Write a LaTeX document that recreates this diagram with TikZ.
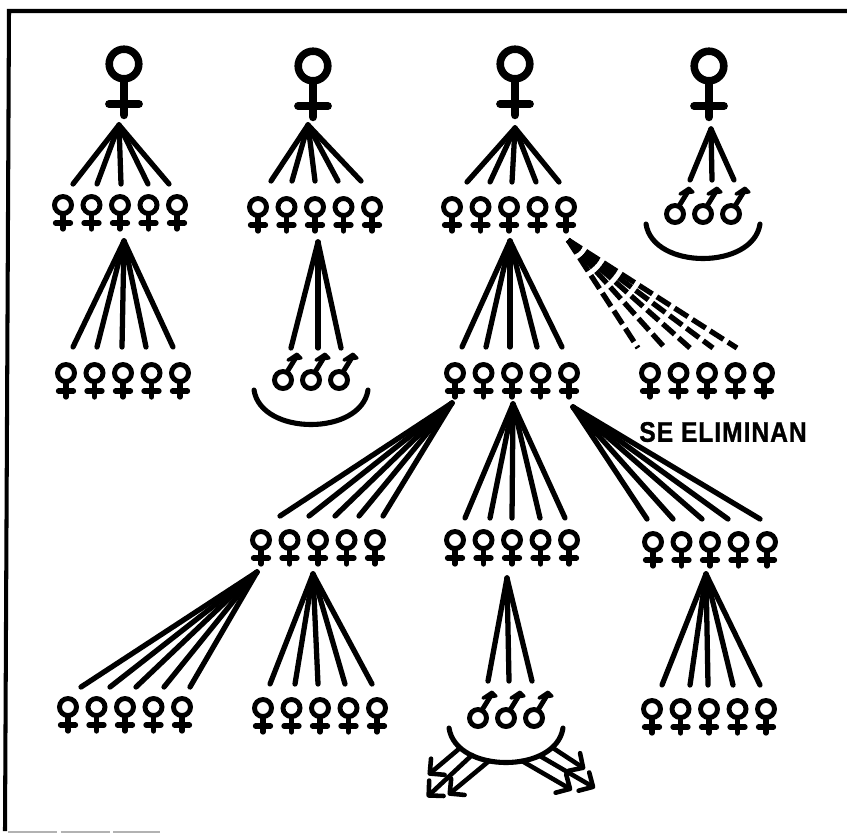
\documentclass[tikz,border=0pt]{standalone}
\usepackage{fontspec}
\setmainfont{Liberation Sans}[BoldFeatures={FakeBold=1.3}]
\usetikzlibrary{arrows.meta}

% one row of five small symbols, centred on x
\newcommand{\femrow}[3]{
\foreach \dx [count=\i] in {-57,-28.5,0,28.5,57} {
\pic (#1\i) at (#2+\dx,#3) {smallfem};
}
}
% three male symbols with the bowl below them
\newcommand{\malerow}[3]{
\foreach \dx [count=\i] in {-28,0,28} {
\pic (#1\i) at (#2+\dx,#3) {smallmale};
}
\coordinate (#1left) at (#2-57,#3+10);
\coordinate (#1right) at (#2+57,#3+10);
\coordinate (#1ca) at (#2-50,#3+56);
\coordinate (#1cb) at (#2+50,#3+56);
\draw[bowl] (#1left) .. controls (#1ca) and (#1cb) .. (#1right);
}
% fan of lines from one apex, #4 = height of the free ends
\newcommand{\fan}[6][fanline]{
\coordinate (#2a) at (#3,#4);
\foreach \ex [count=\i] in {#6} {
\coordinate (#2\i) at (\ex,#5);
\draw[#1] (#2a) -- (#2\i);
}
}

\begin{document}
\begin{tikzpicture}[x=0.02cm, y=-0.02cm, line cap=round,
fanline/.style={line width=3pt},
dashline/.style={line width=3pt, line cap=butt, dash pattern=on 9pt off 3pt},
bowl/.style={line width=2.9pt},
escape/.style={line width=2.6pt, -{Straight Barb[length=6pt,width=12pt,round]}},
frame/.style={line width=2.3pt},
smallfem/.pic={
\draw[line width=2.8pt] (0,0) circle (8.5);
\draw[line width=3pt] (0,9) -- (0,24);
\draw[line width=3pt] (-7.5,18) -- (7.5,18);
},
bigfem/.pic={
\draw[line width=4.3pt] (0,0) circle (14.8);
\draw[line width=4.8pt] (0,16) -- (0,51);
\draw[line width=4.4pt] (-15,40) -- (15,40);
},
smallmale/.pic={
\draw[line width=2.8pt] (0,0) circle (8.5);
\draw[line width=2.8pt] (4,-8) -- (12,-21);
\fill[line width=1.8pt, line join=round, draw=black] (5,-20) -- (18,-22) -- (14,-26) -- cycle;
}]
\useasboundingbox (0,0) rectangle (847,833);

% frame
\coordinate (fbl) at (5,831);
\coordinate (ftl) at (9,11);
\coordinate (ftr) at (847,11);
\draw[frame, line cap=butt] (fbl) -- (ftl) -- (ftr);
\coordinate (fga) at (8,832);
\coordinate (fgb) at (160,832);
\draw[black!30, line width=0.8pt, line cap=butt, dash pattern=on 28pt off 2pt] (fga) -- (fgb);

% top mothers
\pic (mother1) at (124,64) {bigfem};
\pic (mother2) at (313,66) {bigfem};
\pic (mother3) at (515,64) {bigfem};
\pic (mother4) at (709,66) {bigfem};

% first generation
\fan{topa}{119}{125}{184}{73,97,121,148,169}
\fan{topb}{308}{125}{181}{271,292,315,338,361}
\fan{topc}{515}{128}{182}{467,490,512,536,559}
\fan{topd}{711}{129}{180}{690,712,734}
\femrow{onea}{120}{205}
\femrow{oneb}{315}{207}
\femrow{onec}{509}{207}
\malerow{oned}{703}{214}

% second generation
\fan{seca}{124}{241}{347}{73,97,122,146,173}
\fan{secb}{318}{242}{348}{291,318,341}
\fan{secc}{510}{241}{347}{462,486,510,537,562}
\fan[dashline]{secd}{568}{240}{348}{638,665,690,713,737}
\femrow{twoa}{123}{373}
\malerow{twob}{311}{380}
\femrow{twoc}{512}{373}
\femrow{twod}{707}{373}
\node[font=\bfseries, yscale=1.15] (elim) at (723,432) {\fontsize{14}{14}\selectfont\addfontfeature{LetterSpace=4}SE ELIMINAN};

% third generation
\fan{thra}{452}{403}{516}{280,309,335,359,383}
\fan{thrb}{513}{404}{518}{465,490,512,540,565}
\fan{thrc}{573}{407}{519}{647,673,702,728,760}
\femrow{threea}{318}{540}
\femrow{threeb}{512}{540}
\femrow{threec}{710}{542}

% fourth generation
\fan{foua}{257}{572}{687}{81,110,136,164,190}
\fan{foub}{313}{574}{684}{270,295,318,345,372}
\fan{fouc}{507}{578}{681}{488,509,532}
\fan{foud}{706}{574}{685}{662,690,708,733,760}
\femrow{foura}{125}{707}
\femrow{fourb}{320}{708}
\malerow{fourc}{506}{718}
\femrow{fourd}{709}{709}

% males leaving the bowl
\coordinate (outa) at (460,748);
\coordinate (outb) at (472,755);
\coordinate (outc) at (489,761);
\coordinate (outd) at (522,761);
\coordinate (oute) at (540,756);
\coordinate (outf) at (553,748);
\coordinate (enda) at (428,775);
\coordinate (endb) at (427,797);
\coordinate (endc) at (448,795);
\coordinate (endd) at (572,790);
\coordinate (ende) at (595,788);
\coordinate (endf) at (585,769);
\draw[escape] (outa) -- (enda);
\draw[escape] (outb) -- (endb);
\draw[escape] (outc) -- (endc);
\draw[escape] (outd) -- (endd);
\draw[escape] (oute) -- (ende);
\draw[escape] (outf) -- (endf);

\end{tikzpicture}
\end{document}
